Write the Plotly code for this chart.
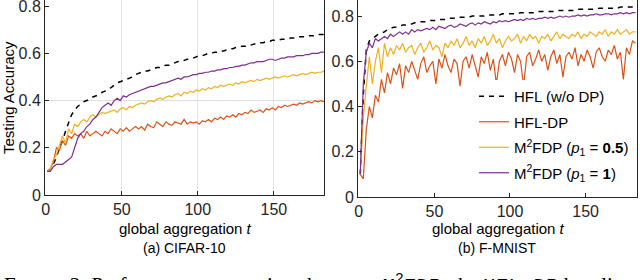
import plotly.graph_objects as go

# global aggregation rounds (every second round)
ROUNDS = list(range(1, 184, 2))

# ---- (a) CIFAR-10 ----
C_HFL = [0.10, 0.11, 0.13, 0.16, 0.20, 0.23, 0.27, 0.31, 0.34, 0.36,
         0.375, 0.385, 0.395, 0.40, 0.405, 0.415, 0.42, 0.425, 0.435, 0.44,
         0.45, 0.455, 0.465, 0.475, 0.48, 0.485, 0.49, 0.495, 0.50, 0.51,
         0.515, 0.52, 0.525, 0.525, 0.53, 0.535, 0.54, 0.54, 0.545, 0.55,
         0.55, 0.555, 0.56, 0.565, 0.565, 0.57, 0.575, 0.575, 0.58, 0.585,
         0.59, 0.59, 0.595, 0.60, 0.60, 0.605, 0.605, 0.61, 0.61, 0.615,
         0.62, 0.62, 0.625, 0.625, 0.63, 0.63, 0.635, 0.635, 0.64, 0.64,
         0.645, 0.645, 0.65, 0.65, 0.655, 0.655, 0.655, 0.66, 0.66, 0.66,
         0.665, 0.665, 0.665, 0.67, 0.67, 0.67, 0.675, 0.675, 0.675, 0.68,
         0.68, 0.68]
C_DP = [0.10, 0.11, 0.14, 0.20, 0.19, 0.23, 0.21, 0.25, 0.24, 0.26,
        0.25, 0.26, 0.24, 0.27, 0.25, 0.26, 0.27, 0.26, 0.25, 0.27,
        0.26, 0.28, 0.27, 0.26, 0.28, 0.27, 0.285, 0.27, 0.28, 0.29,
        0.28, 0.29, 0.275, 0.30, 0.29, 0.285, 0.31, 0.30, 0.29, 0.31,
        0.30, 0.295, 0.31, 0.305, 0.30, 0.32, 0.30, 0.31, 0.305, 0.31,
        0.30, 0.315, 0.31, 0.32, 0.31, 0.325, 0.32, 0.33, 0.32, 0.335,
        0.33, 0.34, 0.33, 0.345, 0.34, 0.35, 0.345, 0.36, 0.35, 0.355,
        0.36, 0.35, 0.365, 0.36, 0.37, 0.36, 0.375, 0.37, 0.38, 0.375,
        0.38, 0.385, 0.38, 0.39, 0.385, 0.39, 0.395, 0.39, 0.40, 0.395,
        0.40, 0.395]
C_P05 = [0.10, 0.11, 0.15, 0.17, 0.21, 0.25, 0.22, 0.28, 0.26, 0.30,
         0.29, 0.31, 0.32, 0.31, 0.33, 0.34, 0.33, 0.34, 0.35, 0.345,
         0.35, 0.355, 0.36, 0.35, 0.365, 0.37, 0.36, 0.375, 0.37, 0.38,
         0.385, 0.39, 0.385, 0.395, 0.40, 0.395, 0.405, 0.41, 0.405, 0.415,
         0.42, 0.415, 0.425, 0.43, 0.42, 0.435, 0.43, 0.44, 0.435, 0.445,
         0.44, 0.45, 0.445, 0.455, 0.45, 0.46, 0.455, 0.465, 0.46, 0.465,
         0.47, 0.465, 0.475, 0.47, 0.48, 0.475, 0.48, 0.485, 0.48, 0.49,
         0.485, 0.49, 0.495, 0.49, 0.495, 0.50, 0.495, 0.50, 0.505, 0.50,
         0.505, 0.51, 0.505, 0.51, 0.515, 0.51, 0.515, 0.52, 0.515, 0.52,
         0.52, 0.525]
C_P1 = [0.10, 0.10, 0.12, 0.13, 0.13, 0.13, 0.14, 0.15, 0.16, 0.20,
        0.24, 0.26, 0.27, 0.29, 0.30, 0.32, 0.33, 0.35, 0.37, 0.38,
        0.39, 0.38, 0.40, 0.41, 0.40, 0.42, 0.415, 0.425, 0.43, 0.435,
        0.44, 0.445, 0.45, 0.455, 0.46, 0.46, 0.465, 0.47, 0.475, 0.475,
        0.48, 0.485, 0.49, 0.495, 0.49, 0.50, 0.50, 0.505, 0.51, 0.51,
        0.515, 0.515, 0.52, 0.52, 0.525, 0.525, 0.53, 0.53, 0.535, 0.535,
        0.54, 0.54, 0.545, 0.545, 0.55, 0.55, 0.555, 0.56, 0.56, 0.565,
        0.565, 0.565, 0.57, 0.575, 0.575, 0.57, 0.575, 0.58, 0.58, 0.585,
        0.585, 0.585, 0.59, 0.59, 0.59, 0.595, 0.595, 0.60, 0.60, 0.60,
        0.605, 0.605]

# ---- (b) F-MNIST ----
F_HFL = [0.10, 0.45, 0.65, 0.69, 0.70, 0.71, 0.72, 0.725, 0.73, 0.74,
         0.745, 0.75, 0.75, 0.755, 0.76, 0.76, 0.765, 0.765, 0.77, 0.77,
         0.775, 0.775, 0.775, 0.78, 0.78, 0.78, 0.785, 0.785, 0.785, 0.79,
         0.79, 0.79, 0.79, 0.795, 0.795, 0.795, 0.795, 0.80, 0.80, 0.80,
         0.80, 0.80, 0.805, 0.805, 0.805, 0.805, 0.805, 0.81, 0.81, 0.81,
         0.81, 0.81, 0.81, 0.815, 0.815, 0.815, 0.815, 0.815, 0.815, 0.82,
         0.82, 0.82, 0.82, 0.82, 0.82, 0.825, 0.825, 0.825, 0.825, 0.825,
         0.825, 0.825, 0.83, 0.83, 0.83, 0.83, 0.83, 0.83, 0.83, 0.835,
         0.835, 0.835, 0.835, 0.835, 0.835, 0.835, 0.84, 0.84, 0.84, 0.84,
         0.84, 0.84]
F_DP = [0.10, 0.08, 0.30, 0.40, 0.35, 0.45, 0.42, 0.52, 0.46, 0.55,
        0.50, 0.57, 0.54, 0.59, 0.48, 0.58, 0.55, 0.60, 0.56, 0.52,
        0.59, 0.62, 0.55, 0.58, 0.60, 0.50, 0.61, 0.57, 0.63, 0.58,
        0.55, 0.61, 0.59, 0.49, 0.60, 0.62, 0.57, 0.63, 0.58, 0.53,
        0.62, 0.59, 0.64, 0.56, 0.61, 0.50, 0.60, 0.63, 0.58, 0.64,
        0.61, 0.55, 0.63, 0.60, 0.49, 0.62, 0.64, 0.58, 0.61, 0.65,
        0.60, 0.63, 0.56, 0.62, 0.65, 0.59, 0.63, 0.53, 0.62, 0.64,
        0.61, 0.66, 0.58, 0.63, 0.60, 0.65, 0.62, 0.57, 0.64, 0.66,
        0.62, 0.60, 0.65, 0.63, 0.67, 0.61, 0.64, 0.52, 0.66, 0.63,
        0.69, 0.68]
F_P05 = [0.10, 0.35, 0.49, 0.62, 0.50, 0.60, 0.66, 0.55, 0.68, 0.62,
         0.66, 0.63, 0.67, 0.65, 0.68, 0.64, 0.66, 0.67, 0.63, 0.66,
         0.68, 0.64, 0.66, 0.69, 0.65, 0.67, 0.66, 0.62, 0.68, 0.66,
         0.69, 0.67, 0.70, 0.66, 0.68, 0.71, 0.67, 0.69, 0.66, 0.70,
         0.68, 0.71, 0.67, 0.69, 0.72, 0.68, 0.70, 0.66, 0.69, 0.71,
         0.69, 0.70, 0.72, 0.68, 0.71, 0.69, 0.72, 0.70, 0.71, 0.68,
         0.71, 0.70, 0.72, 0.69, 0.71, 0.73, 0.70, 0.72, 0.71, 0.70,
         0.72, 0.71, 0.73, 0.70, 0.72, 0.71, 0.73, 0.72, 0.71, 0.73,
         0.72, 0.74, 0.71, 0.73, 0.72, 0.74, 0.72, 0.73, 0.74, 0.72,
         0.73, 0.73]
F_P1 = [0.10, 0.50, 0.64, 0.68, 0.66, 0.70, 0.69, 0.70, 0.71, 0.70,
        0.72, 0.71, 0.72, 0.73, 0.72, 0.73, 0.72, 0.74, 0.73, 0.74,
        0.735, 0.74, 0.745, 0.74, 0.75, 0.74, 0.755, 0.75, 0.745, 0.755,
        0.76, 0.75, 0.755, 0.765, 0.76, 0.755, 0.765, 0.77, 0.76, 0.77,
        0.765, 0.775, 0.77, 0.765, 0.775, 0.77, 0.78, 0.775, 0.78, 0.775,
        0.78, 0.785, 0.78, 0.785, 0.78, 0.79, 0.785, 0.79, 0.785, 0.79,
        0.79, 0.795, 0.79, 0.795, 0.79, 0.795, 0.80, 0.795, 0.80, 0.795,
        0.80, 0.80, 0.805, 0.80, 0.805, 0.80, 0.805, 0.805, 0.81, 0.805,
        0.805, 0.81, 0.81, 0.805, 0.81, 0.81, 0.815, 0.81, 0.815, 0.81,
        0.815, 0.815]

X_TICKS = [0, 50, 100, 150]
Y_TICKS = [0, 0.2, 0.4, 0.6, 0.8]
Y_TICK_TEXT = ["0", "0.2", "0.4", "0.6", "0.8"]

NAMES = ["HFL (w/o DP)", "HFL-DP",
         "M<sup>2</sup>FDP (<i>p</i><sub>1</sub> = <b>0.5</b>)",
         "M<sup>2</sup>FDP (<i>p</i><sub>1</sub> = <b>1</b>)"]
COLORS = ["#000000", "#D95319", "#EDB120", "#7E2F8E"]

W, H = 640, 280
FONT = "Liberation Sans, Arial, sans-serif"
AX = "#262626"

fig = go.Figure()

def add_series(series_list, xa, ya, show):
    for i, s in enumerate(series_list):
        fig.add_trace(go.Scatter(
            x=ROUNDS[:len(s)], y=s, mode="lines", name=NAMES[i],
            xaxis=xa, yaxis=ya, showlegend=show, legendgroup="g%d" % i,
            line=dict(color=COLORS[i], width=1.5 if i == 0 else 1.2,
                      dash="5px,5px" if i == 0 else "solid"),
        ))

add_series([C_HFL, C_DP, C_P05, C_P1], "x", "y", False)
add_series([F_HFL, F_DP, F_P05, F_P1], "x2", "y2", True)

def px_x(p):
    return p / W

def px_y(p):
    return 1 - p / H

axis_common = dict(showline=True, linecolor=AX, linewidth=1, ticks="inside",
                   ticklen=4, tickcolor=AX, zeroline=False, automargin=False,
                   ticklabeloverflow="allow",
                   tickfont=dict(family=FONT, size=16, color=AX))

fig.update_layout(
    width=W, height=H, margin=dict(l=0, r=0, t=0, b=0, pad=0),
    paper_bgcolor="white", plot_bgcolor="white",
    xaxis=dict(domain=[px_x(45), px_x(324)], range=[-0.5, 183], anchor="y",
               tickvals=X_TICKS, showgrid=True, gridcolor="#e3e3e3", gridwidth=1,
               **axis_common),
    yaxis=dict(domain=[px_y(195), 1], range=[0, 0.826], anchor="x",
               tickvals=Y_TICKS, ticktext=Y_TICK_TEXT, showgrid=False,
               mirror=True, **axis_common),
    xaxis2=dict(domain=[px_x(358), px_x(637)], range=[-0.5, 184], anchor="y2",
                tickvals=X_TICKS, showgrid=False, **axis_common),
    yaxis2=dict(domain=[px_y(197), 1], range=[0, 0.871], anchor="x2",
                tickvals=Y_TICKS, ticktext=Y_TICK_TEXT, showgrid=False,
                mirror=True, **axis_common),
    legend=dict(x=px_x(474), y=px_y(80), xanchor="left", yanchor="top",
                bgcolor="white", borderwidth=0,
                font=dict(family=FONT, size=15, color="#000000"),
                tracegroupgap=3),
    showlegend=True,
)

# faint horizontal grid line at 0.4 in panel (a)
fig.add_shape(type="line", xref="x domain", yref="y", x0=0, x1=1, y0=0.4, y1=0.4,
              line=dict(color="#dcdcdc", width=1), layer="below")

ann_font = dict(family=FONT, size=15, color="#000000")
annotations = [
    dict(text="Testing Accuracy", x=px_x(8), y=px_y(98), textangle=-90,
         font=dict(family=FONT, size=15, color="#000000")),
    dict(text="global aggregation <i>t</i>", x=px_x(185), y=px_y(228), font=ann_font),
    dict(text="global aggregation <i>t</i>", x=px_x(498), y=px_y(228), font=ann_font),
    dict(text="(a) CIFAR-10", x=px_x(184), y=px_y(248),
         font=dict(family=FONT, size=14, color="#000000")),
    dict(text="(b) F-MNIST", x=px_x(497), y=px_y(248),
         font=dict(family=FONT, size=14, color="#000000")),
]
for a in annotations:
    fig.add_annotation(xref="paper", yref="paper", showarrow=False,
                       xanchor="center", yanchor="middle", **a)

caption = ("F<span style='font-size:16px'>IGURE</span> 2: Performance comparison between "
           "<span style='font-family:Liberation Mono, monospace'>M<sup>2</sup>FDP</span>, the "
           "<span style='font-family:Liberation Mono, monospace'>HFL−DP</span> baseline")
fig.add_annotation(xref="paper", yref="paper", x=px_x(2), y=px_y(269),
                   xanchor="left", yanchor="top", showarrow=False, text=caption,
                   font=dict(family="Liberation Serif, Times New Roman, serif", size=21,
                             color="#000000"))

fig.write_html("out.html", config={"displayModeBar": False},
               post_script="document.body.style.margin='0';document.body.style.overflow='hidden';")
